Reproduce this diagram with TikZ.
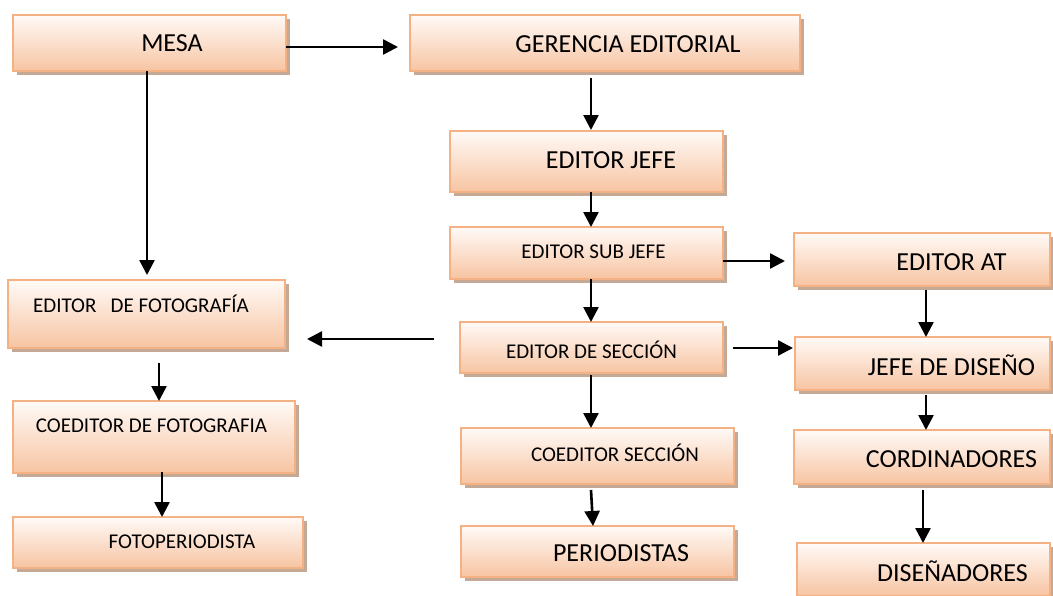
\documentclass[tikz,border=0pt]{standalone}
\usepackage{fontspec}
\setmainfont{Carlito}
\usetikzlibrary{arrows.meta,shadows}
\definecolor{boxborder}{RGB}{244,177,131}
\definecolor{boxtop}{RGB}{255,250,247}
\definecolor{boxbot}{RGB}{247,196,162}
\definecolor{shadowc}{RGB}{190,160,140}
\tikzset{
  orgbox/.style={draw=boxborder, line width=2pt, top color=boxtop, bottom color=boxbot,
    minimum width=#1, inner sep=0pt, outer sep=0pt,
    drop shadow={shadow xshift=4pt, shadow yshift=-4pt, fill=shadowc, opacity=0.9}},
  big/.style={font=\fontsize{26}{30}\selectfont, inner sep=0pt},
  small/.style={font=\fontsize{21}{25}\selectfont, inner sep=0pt},
  arr/.style={line width=2.6pt, -{Triangle[length=15pt,width=15pt]}}
}
\begin{document}
\begin{tikzpicture}[x=1pt,y=-1pt]
\useasboundingbox (0,0) rectangle (1053,595);
% boxes
\node[orgbox=273pt, minimum height=56pt] (mesa)   at (149.5,43) {};
\node[orgbox=390pt, minimum height=56pt] (ger)    at (605,43) {};
\node[orgbox=273pt, minimum height=61pt] (jefe)   at (586.5,161.5) {};
\node[orgbox=273pt, minimum height=52pt] (sub)    at (586.5,253) {};
\node[orgbox=256pt, minimum height=53pt] (at)     at (922,259.5) {};
\node[orgbox=277pt, minimum height=68pt] (efoto)  at (146.5,314) {};
\node[orgbox=263pt, minimum height=51pt] (secc)   at (591.5,347.5) {};
\node[orgbox=255pt, minimum height=53pt] (dis)    at (922.5,363.5) {};
\node[orgbox=282pt, minimum height=72pt] (cofoto) at (154,437) {};
\node[orgbox=273pt, minimum height=56pt] (cosecc) at (597.5,456) {};
\node[orgbox=256pt, minimum height=54pt] (cord)   at (922,457) {};
\node[orgbox=290pt, minimum height=51pt] (fotop)  at (158,542.5) {};
\node[orgbox=273pt, minimum height=51pt] (perio)  at (597.5,551.5) {};
\node[orgbox=253pt, minimum height=53pt] (disen)  at (923.5,569.5) {};
% texts
\node[big]   (mesa-t)   at (172,43)    {MESA};
\node[big]   (ger-t)    at (628,44)    {GERENCIA EDITORIAL};
\node[big]   (jefe-t)   at (611,160)   {EDITOR JEFE};
\node[small] (sub-t)    at (593.5,251.5) {EDITOR SUB JEFE};
\node[big]   (at-t)     at (951.5,262) {EDITOR AT};
\node[small] (efoto-t)  at (141,304)   {EDITOR\ \ \ DE FOTOGRAFÍA};
\node[small] (secc-t)   at (591.5,350) {EDITOR DE SECCIÓN};
\node[big]   (dis-t)    at (951.5,365) {JEFE DE DISEÑO};
\node[small] (cofoto-t) at (151.5,426) {COEDITOR DE FOTOGRAFIA};
\node[small] (cosecc-t) at (615,453)   {COEDITOR SECCIÓN};
\node[big]   (cord-t)   at (951.5,459) {CORDINADORES};
\node[small] (fotop-t)  at (182,542)   {FOTOPERIODISTA};
\node[big]   (perio-t)  at (621,553.5) {PERIODISTAS};
\node[big]   (disen-t)  at (952.5,571) {DISEÑADORES};
% arrows
\draw[arr] ([yshift=-4pt]mesa.east) -- ([xshift=-12pt,yshift=-4pt]ger.west);
\draw[arr] ([xshift=-2.5pt]mesa.south) -- ([xshift=0.5pt,yshift=5pt]efoto.north);
\draw[arr] ([xshift=-14pt,yshift=-7pt]ger.south) -- ([xshift=4.5pt,yshift=1pt]jefe.north);
\draw[arr] ([xshift=4.5pt]jefe.south) -- ([xshift=4.5pt]sub.north);
\draw[arr] ([yshift=-8pt]sub.east) -- ([xshift=-9pt,yshift=-1.5pt]at.west);
\draw[arr] ([xshift=4.5pt]sub.south) -- ([xshift=-0.5pt]secc.north);
\draw[arr] ([xshift=-26pt,yshift=8.5pt]secc.west) -- ([xshift=22pt,yshift=-25pt]efoto.east);
\draw[arr] ([xshift=10pt,yshift=-0.5pt]secc.east) -- ([xshift=-2pt,yshift=15.5pt]dis.west);
\draw[arr] ([xshift=4pt,yshift=-4pt]at.south) -- ([xshift=3.5pt]dis.north);
\draw[arr] ([xshift=3.5pt,yshift=-5pt]dis.south) -- ([xshift=4pt]cord.north);
\draw[arr] ([xshift=1pt,yshift=-6pt]cord.south) -- ([xshift=-0.5pt]disen.north);
\draw[arr] ([xshift=-0.5pt,yshift=-2pt]secc.south) -- ([xshift=-6.5pt]cosecc.north);
\draw[arr] ([xshift=-6.5pt,yshift=-6pt]cosecc.south) -- ([xshift=-4.5pt]perio.north);
\draw[arr] ([xshift=12.5pt,yshift=-15pt]efoto.south) -- ([xshift=5pt]cofoto.north);
\draw[arr] ([xshift=8pt,yshift=1pt]cofoto.south) -- ([xshift=4pt]fotop.north);
\end{tikzpicture}
\end{document}
